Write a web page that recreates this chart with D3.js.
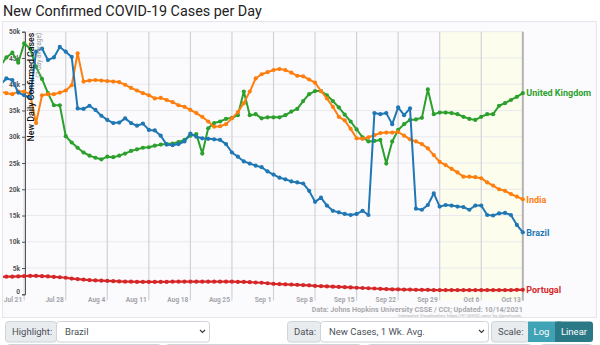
<!DOCTYPE html>
<html>
<head>
<meta charset="utf-8">
<script src="https://cdn.jsdelivr.net/npm/d3@7"></script>
<style>
  html, body { margin: 0; padding: 0; background: #fff; }
  svg { display: block; font-family: Roboto, "Noto Sans", sans-serif; }
</style>
</head>
<body>
<svg id="chart" width="600" height="345"></svg>
<script>
// ---------- DATA (daily 7-day averages, Jul 17 .. Oct 13, 2021) ----------
const firstDay = "2021-07-17";
const lastDay = "2021-10-13";
const weekTicks = ["2021-07-21","2021-07-28","2021-08-04","2021-08-11","2021-08-18","2021-08-25",
                   "2021-09-01","2021-09-08","2021-09-15","2021-09-22","2021-09-29","2021-10-06","2021-10-13"];
const yTicks = [0, 5000, 10000, 15000, 20000, 25000, 30000, 35000, 40000, 45000, 50000];
const shadeStart = "2021-09-29";

const countries = ["United Kingdom", "India", "Brazil", "Portugal"];

const ukValues = [43.5,45.1,46.0,44.1,47.8,46.8,43.3,41.0,38.3,36.0,36.0,30.1,28.9,27.9,27.0,26.4,26.0,25.7,
  26.2,26.1,26.4,26.8,27.3,27.6,27.9,28.0,28.3,28.5,28.6,28.7,29.0,29.4,30.2,30.5,26.8,31.6,32.6,32.9,33.4,33.6,
  34.1,38.6,34.1,34.3,33.5,33.7,33.7,33.7,34.1,34.8,35.3,36.8,38.1,38.7,38.7,37.9,36.8,35.6,34.2,32.9,31.4,29.9,
  29.1,29.2,29.4,24.9,29.1,31.3,32.4,33.2,33.3,33.6,39.0,34.3,34.6,34.6,34.5,34.3,33.8,33.4,33.2,33.8,34.3,34.3,
  35.9,36.4,37.0,37.6,38.3];
const indiaValues = [38.6,38.3,38.1,38.6,38.6,38.1,32.6,37.9,38.1,38.1,38.4,38.8,39.8,45.9,40.5,40.7,40.8,40.7,
  40.6,40.5,40.4,39.9,39.3,38.8,38.3,37.9,37.3,37.4,37.0,36.6,36.0,35.7,35.1,34.5,33.8,32.9,31.9,32.0,32.4,33.5,
  34.7,36.4,38.6,41.1,41.9,42.3,42.7,42.9,42.7,42.2,41.6,41.5,40.9,40.3,38.7,37.3,35.7,33.8,33.1,31.5,29.7,29.6,
  29.9,30.3,30.7,30.8,30.8,30.9,30.2,29.5,29.1,28.6,27.8,26.5,25.2,24.6,23.9,23.2,22.4,22.4,22.3,22.1,21.3,20.7,
  20.0,19.7,19.1,18.6,18.1];
const brazilValues = [39.9,41.1,40.8,38.4,37.9,37.4,46.2,46.8,44.6,45.1,47.1,46.2,45.2,35.4,35.3,35.9,35.1,34.0,
  33.2,32.6,32.7,33.5,32.6,32.1,32.5,31.3,31.2,30.2,28.5,28.4,28.6,29.1,30.6,30.0,29.7,29.6,29.5,29.4,28.6,27.0,
  26.2,25.3,24.9,24.5,24.2,23.4,22.8,22.2,21.9,21.5,21.3,21.1,19.7,17.6,18.4,16.9,15.9,15.6,15.3,15.1,15.3,15.9,
  15.1,34.5,34.3,34.5,32.4,35.6,34.1,35.4,16.3,16.1,17.0,19.2,16.7,17.0,16.9,16.7,16.6,16.1,16.9,16.9,15.1,15.0,
  15.4,15.5,15.1,13.2,11.8];
const portugalValues = [3.3,3.35,3.35,3.4,3.45,3.5,3.5,3.45,3.4,3.3,3.25,3.15,3.0,2.9,2.8,2.7,2.65,2.6,2.55,
  2.5,2.45,2.4,2.4,2.35,2.35,2.35,2.35,2.35,2.35,2.4,2.4,2.4,2.4,2.4,2.4,2.4,2.4,2.4,2.4,2.4,2.35,2.35,2.3,2.25,
  2.2,2.1,2.0,1.95,1.9,1.85,1.8,1.75,1.7,1.6,1.55,1.5,1.45,1.4,1.35,1.3,1.25,1.2,1.15,1.1,1.05,1.0,0.95,0.95,
  0.9,0.9,0.85,0.85,0.85,0.8,0.8,0.8,0.8,0.8,0.8,0.8,0.8,0.8,0.8,0.8,0.8,0.8,0.8,0.85,0.85];
const seriesColors = ["#2ca02c", "#ff7f0e", "#1f77b4", "#d62728"];

const titleText = "New Confirmed COVID-19 Cases per Day";
const yTitle = "New Daily Confirmed Cases";
const ySubTitle = "(7-day average)";
const sourceText = "Data: Johns Hopkins University CSSE / CCI; Updated: 10/14/2021";
const creditText = "Interactive Visualization: https://91-DIVOC.com/ by @profwade_";

// ---------- BUILD ----------
const parse = d3.timeParse("%Y-%m-%d");
const dates = d3.timeDay.range(parse(firstDay), d3.timeDay.offset(parse(lastDay), 1));
const allValues = [ukValues, indiaValues, brazilValues, portugalValues];
const series = countries.map((name, i) => ({
  name, color: seriesColors[i],
  points: dates.map((d, j) => ({ date: d, value: allValues[i][j] * 1000 }))
}));

const svg = d3.select("#chart");

// title
const title = svg.append("text").attr("x", 3).attr("y", 15.5)
  .attr("fill", "#222").attr("font-size", 17).text(titleText);
const tw = title.node().getComputedTextLength();
title.attr("font-size", 17 * 259 / tw);

// panel
svg.append("rect").attr("x", 2.5).attr("y", 21.5).attr("width", 594).attr("height", 296)
  .attr("fill", "#fbfbfe").attr("stroke", "#e6e6ea");

const x = d3.scaleTime().domain([parse(weekTicks[0]), parse(lastDay)]).range([24.2, 522.8]);
const y = d3.scaleLinear().domain([0, 50000]).range([294.3, 31.7]);
const plotLeft = 3, plotRight = x(parse(lastDay)), plotTop = y(50000), plotBottom = y(0);

// yellow shading
svg.append("rect").attr("x", x(parse(shadeStart))).attr("y", plotTop)
  .attr("width", plotRight - x(parse(shadeStart))).attr("height", 300 - plotTop)
  .attr("fill", "#fdfdee");

// horizontal grid
svg.append("g").selectAll("line").data(yTicks.filter(v => v > 0)).join("line")
  .attr("x1", 25).attr("x2", plotRight).attr("y1", d => y(d)).attr("y2", d => y(d))
  .attr("stroke", "#e9e9ef").attr("stroke-width", 1);

// vertical grid
svg.append("g").selectAll("line").data(weekTicks.map(parse)).join("line")
  .attr("x1", d => x(d)).attr("x2", d => x(d)).attr("y1", plotTop).attr("y2", 300.5)
  .attr("stroke", "#d2d2d6").attr("stroke-width", 1.2);

// right boundary
svg.append("line").attr("x1", plotRight).attr("x2", plotRight).attr("y1", plotTop).attr("y2", 300.5)
  .attr("stroke", "#b4b4b8").attr("stroke-width", 2);

// x labels
svg.append("g").selectAll("text").data(weekTicks.map(parse)).join("text")
  .attr("x", d => x(d) - 2).attr("y", 301.5).attr("text-anchor", "end")
  .attr("font-size", 6.6).attr("font-weight", "bold").attr("fill", "#a4a4a8")
  .text(d3.timeFormat("%b %-d"));

// y axis
const yAxis = svg.append("g").attr("transform", "translate(25,0)")
  .call(d3.axisLeft(y).tickValues(yTicks).tickSize(3).tickPadding(2)
    .tickFormat(d => d === 0 ? "0" : (d / 1000) + "k"));
yAxis.select(".domain").attr("stroke", "#555").attr("stroke-width", 1);
yAxis.selectAll(".tick line").attr("stroke", "#555");
yAxis.selectAll(".tick text").attr("font-size", 6.6).attr("font-weight", "bold")
  .attr("fill", "#555").attr("font-family", "Roboto, sans-serif")
  .attr("dy", d => d === 0 ? "-0.1em" : "0.32em");

// clip
svg.append("clipPath").attr("id", "plotclip").append("rect")
  .attr("x", plotLeft).attr("y", 22).attr("width", plotRight - plotLeft + 3).attr("height", 280);

const line = d3.line().x(d => x(d.date)).y(d => y(d.value));
const plot = svg.append("g").attr("clip-path", "url(#plotclip)");

// draw Portugal first then others, Brazil last (highlight)
const order = [3, 0, 1, 2];
order.forEach(i => {
  const s = series[i];
  const g = plot.append("g");
  g.append("path").datum(s.points).attr("d", line).attr("fill", "none")
    .attr("stroke", s.color).attr("stroke-width", i === 3 ? 2.2 : 2).attr("stroke-linejoin", "round");
  g.selectAll("circle").data(s.points).join("circle")
    .attr("cx", d => x(d.date)).attr("cy", d => y(d.value)).attr("r", 2.1)
    .attr("fill", s.color);
});

// y titles
const yt = svg.append("text").attr("transform", `translate(33.5,${plotTop + 1}) rotate(-90)`)
  .attr("text-anchor", "end").attr("font-size", 10).attr("font-weight", 500).attr("fill", "#111")
  .text(yTitle);
const ytw = yt.node().getComputedTextLength();
yt.attr("font-size", 10 * 109 / ytw);
svg.append("text").attr("transform", `translate(40.5,${plotTop + 1}) rotate(-90)`)
  .attr("text-anchor", "end").attr("font-size", 6.6).attr("fill", "#999")
  .text(ySubTitle);

// end labels
series.forEach(s => {
  const last = s.points[s.points.length - 1];
  svg.append("text").attr("x", plotRight + 3.5).attr("y", y(last.value) + 3.3)
    .attr("font-size", 9).attr("font-weight", "bold").attr("fill", s.color)
    .text(s.name);
});

// source
svg.append("text").attr("x", plotRight).attr("y", 311.5).attr("text-anchor", "end")
  .attr("font-size", 7.2).attr("font-weight", "bold").attr("fill", "#a9a9ad").text(sourceText);
svg.append("text").attr("x", plotRight).attr("y", 316.5).attr("text-anchor", "end")
  .attr("font-size", 4.4).attr("fill", "#b0b0b4").text(creditText);

// ---------- controls ----------
const ctl = svg.append("g").attr("font-size", 9.5).attr("fill", "#495057");
function addon(x0, x1, label) {
  ctl.append("rect").attr("x", x0 + 0.5).attr("y", 321.5).attr("width", x1 - x0).attr("height", 20.5)
    .attr("rx", 3).attr("fill", "#e9ecef").attr("stroke", "#ced4da");
  ctl.append("text").attr("x", x0 + 7).attr("y", 334.8).text(label);
}
function select(x0, x1, label) {
  ctl.append("rect").attr("x", x0 + 0.5).attr("y", 321.5).attr("width", x1 - x0).attr("height", 20.5)
    .attr("rx", 3).attr("fill", "#fff").attr("stroke", "#ced4da");
  ctl.append("text").attr("x", x0 + 9).attr("y", 334.8).attr("fill", "#495057").text(label);
  ctl.append("path").attr("d", `M${x1 - 9},330 l2.5,2.5 l2.5,-2.5`).attr("fill", "none")
    .attr("stroke", "#343a40").attr("stroke-width", 1.1);
}
addon(5, 56, "Highlight:");
select(56, 209, "Brazil");
addon(287, 320, "Data:");
select(320, 488, "New Cases, 1 Wk. Avg.");
addon(491, 528, "Scale:");
ctl.append("rect").attr("x", 528).attr("y", 321.5).attr("width", 27).attr("height", 20.5).attr("fill", "#3fa2b5");
ctl.append("rect").attr("x", 555).attr("y", 321.5).attr("width", 38).attr("height", 20.5).attr("rx", 3).attr("fill", "#2b7986");
ctl.append("rect").attr("x", 555).attr("y", 321.5).attr("width", 6).attr("height", 20.5).attr("fill", "#2b7986");
ctl.append("text").attr("x", 541.5).attr("y", 334.8).attr("text-anchor", "middle").attr("fill", "#fff").text("Log");
ctl.append("text").attr("x", 574).attr("y", 334.8).attr("text-anchor", "middle").attr("fill", "#fff").text("Linear");

// next row (partially visible)
[[6, 161], [165, 361], [367, 531], [540, 592]].forEach(([a, b]) => {
  ctl.append("rect").attr("x", a + 0.5).attr("y", 344.5).attr("width", b - a).attr("height", 20)
    .attr("rx", 3).attr("fill", "#fff").attr("stroke", "#ced4da");
});
</script>
</body>
</html>
